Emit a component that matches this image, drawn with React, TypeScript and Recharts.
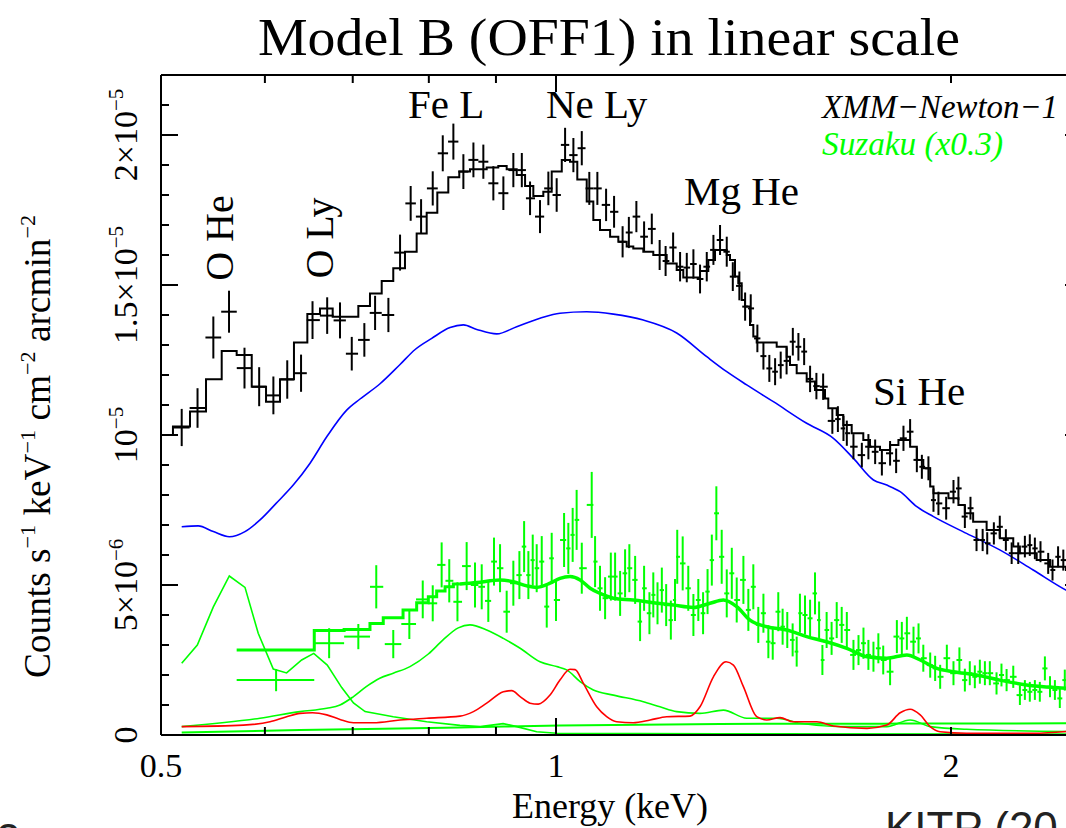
import React from 'react';
import { ComposedChart, Line, Scatter, XAxis, YAxis, ErrorBar } from 'recharts';

// energy in keV, flux in units of 1e-6 counts s^-1 keV^-1 cm^-2 arcmin^-2

// XMM-Newton-1 spectrum: [energy, flux, error]
const xmmPoints: [number, number, number][] = [
  [0.5185, 10.25, 0.62], [0.5331, 10.9, 0.66], [0.5481, 13.25, 0.7], [0.5634, 14.11, 0.7],
  [0.5789, 12.23, 0.68], [0.594, 11.61, 0.65], [0.609, 11.32, 0.63], [0.624, 11.85, 0.64],
  [0.6393, 12.06, 0.62], [0.6523, 13.83, 0.63], [0.6693, 13.98, 0.61], [0.6845, 13.82, 0.6],
  [0.6988, 12.71, 0.56], [0.7144, 13.17, 0.56], [0.728, 14.07, 0.57], [0.7452, 14.0, 0.57],
  [0.7606, 16.08, 0.6], [0.7749, 17.72, 0.58], [0.7892, 17.28, 0.58], [0.8055, 18.22, 0.57],
  [0.8198, 19.39, 0.6], [0.8352, 19.78, 0.6], [0.85, 18.78, 0.58], [0.8651, 19.17, 0.58],
  [0.8803, 19.11, 0.57], [0.8959, 18.39, 0.57], [0.9118, 18.06, 0.56], [0.9279, 18.83, 0.57],
  [0.9418, 18.83, 0.57], [0.9555, 17.89, 0.56], [0.9723, 17.28, 0.55], [0.9867, 18.22, 0.56],
  [1.0012, 18.0, 0.56], [1.0161, 19.67, 0.57], [1.031, 19.33, 0.57], [1.0463, 19.56, 0.57],
  [1.0602, 18.22, 0.55], [1.0753, 18.22, 0.55], [1.0919, 17.67, 0.54], [1.1073, 17.44, 0.53],
  [1.124, 16.44, 0.52], [1.1364, 16.75, 0.52], [1.1515, 17.28, 0.52], [1.1672, 16.61, 0.51],
  [1.1831, 16.87, 0.51], [1.1995, 16.0, 0.5], [1.2121, 15.8, 0.5], [1.2282, 16.25, 0.5],
  [1.2433, 15.61, 0.49], [1.258, 15.58, 0.49], [1.2727, 15.7, 0.49], [1.2876, 15.2, 0.48],
  [1.3029, 15.61, 0.49], [1.3182, 16.17, 0.5], [1.3336, 16.5, 0.5], [1.3494, 16.11, 0.5],
  [1.3638, 15.28, 0.48], [1.3796, 14.97, 0.48], [1.3936, 14.28, 0.47], [1.4074, 14.22, 0.47],
  [1.4239, 13.22, 0.46], [1.4391, 12.63, 0.45], [1.4541, 12.22, 0.45], [1.4689, 12.11, 0.45],
  [1.4834, 12.33, 0.45], [1.4988, 12.47, 0.45], [1.5153, 13.11, 0.46], [1.5302, 12.94, 0.46],
  [1.5457, 12.78, 0.45], [1.5619, 11.87, 0.44], [1.5793, 11.63, 0.44], [1.5981, 11.61, 0.44],
  [1.6241, 10.47, 0.43], [1.64, 10.53, 0.43], [1.6561, 10.22, 0.42], [1.6659, 10.06, 0.42],
  [1.6854, 9.61, 0.42], [1.7104, 9.33, 0.41], [1.7302, 9.61, 0.42], [1.7508, 9.44, 0.41],
  [1.7716, 9.06, 0.41], [1.7973, 9.39, 0.41], [1.8165, 9.14, 0.41], [1.84, 9.89, 0.42],
  [1.8616, 10.11, 0.42], [1.8837, 9.17, 0.41], [1.9004, 8.94, 0.4], [1.9224, 8.89, 0.4],
  [1.9395, 7.83, 0.39], [1.9565, 7.72, 0.39], [1.9832, 7.56, 0.38], [2.0088, 8.11, 0.39],
  [2.0263, 8.22, 0.39], [2.0493, 7.28, 0.38], [2.0696, 7.56, 0.38], [2.0917, 6.5, 0.37],
  [2.1143, 6.5, 0.37], [2.1313, 6.39, 0.37], [2.1563, 6.72, 0.37], [2.1788, 6.94, 0.37],
  [2.2022, 6.5, 0.36], [2.2247, 6.06, 0.36], [2.2505, 6.06, 0.36], [2.2769, 6.28, 0.36],
  [2.2967, 6.33, 0.36], [2.3172, 6.22, 0.36], [2.3402, 6.11, 0.35], [2.372, 5.72, 0.35],
  [2.3901, 5.5, 0.35], [2.4135, 5.94, 0.35], [2.4358, 5.83, 0.35], [2.4643, 5.67, 0.35],
  [2.4862, 5.5, 0.35],
];

// XMM total model, histogram: [bin lower edge, flux]
const xmmModelBins: [number, number][] = [
  [0.5, 10.0], [0.5106, 10.28], [0.5261, 10.78], [0.5411, 11.86], [0.5562, 12.8], [0.571, 12.67],
  [0.5863, 11.61], [0.6012, 11.11], [0.6161, 11.86], [0.6314, 13.08], [0.6464, 14.03], [0.6609, 14.22],
  [0.6758, 13.94], [0.7069, 14.3], [0.7215, 14.72], [0.7365, 15.13], [0.7516, 15.56], [0.7672, 16.11],
  [0.7831, 16.72], [0.797, 17.41], [0.812, 18.08], [0.8278, 18.59], [0.8439, 18.78], [0.8599, 18.86],
  [0.8855, 18.92], [0.9037, 18.97], [0.9171, 18.86], [0.9334, 18.67], [0.9472, 18.3], [0.961, 17.97],
  [0.978, 18.11], [0.9925, 18.78], [1.0102, 19.17], [1.0249, 19.11], [1.0381, 18.52], [1.0554, 17.78],
  [1.0677, 17.17], [1.0803, 16.83], [1.0996, 16.61], [1.1156, 16.44], [1.1321, 16.28], [1.1453, 16.22],
  [1.1656, 16.11], [1.1862, 16.0], [1.2144, 15.72], [1.2359, 15.5], [1.2503, 15.25], [1.2875, 15.47],
  [1.3064, 15.83], [1.3219, 16.17], [1.3493, 16.0], [1.3571, 15.83], [1.3691, 15.28], [1.377, 15.06],
  [1.3853, 14.5], [1.3933, 14.28], [1.4056, 13.67], [1.4138, 13.28], [1.4222, 13.08], [1.473, 12.94],
  [1.4991, 12.61], [1.5078, 12.33], [1.5256, 12.06], [1.5526, 11.78], [1.5754, 11.5], [1.6033, 11.22],
  [1.6126, 10.89], [1.6366, 10.67], [1.6556, 10.33], [1.6802, 10.06], [1.7148, 9.83], [1.735, 9.61],
  [1.7658, 9.5], [1.7973, 9.67], [1.8238, 9.83], [1.8616, 9.61], [1.8837, 9.17], [1.9052, 8.89],
  [1.9284, 8.28], [1.9395, 8.06], [1.9912, 7.89], [2.0263, 7.67], [2.0493, 7.39], [2.0793, 7.11],
  [2.1291, 6.83], [2.1788, 6.56], [2.231, 6.28], [2.2571, 6.06], [2.3246, 5.83], [2.3795, 5.61],
  [2.4473, 5.5], [2.52, 5.5],
];

// XMM continuum component (blue)
const xmmContinuum: [number, number][] = [
  [0.5185, 6.94], [0.5337, 6.97], [0.5481, 6.78], [0.5637, 6.61], [0.5794, 6.78], [0.5949, 7.17],
  [0.6119, 7.72], [0.6306, 8.33], [0.6495, 9.06], [0.6688, 9.94], [0.6926, 10.83], [0.709, 11.2],
  [0.734, 11.7], [0.7606, 12.35], [0.781, 12.85], [0.8041, 13.22], [0.8303, 13.58], [0.85, 13.67],
  [0.8702, 13.52], [0.9012, 13.37], [0.9334, 13.61], [0.9723, 13.89], [1.007, 14.06], [1.0554, 14.11],
  [1.106, 14.03], [1.1656, 13.83], [1.2359, 13.4], [1.3029, 12.61], [1.3494, 12.11], [1.3975, 11.67],
  [1.4645, 11.11], [1.5526, 10.39], [1.6272, 9.89], [1.6854, 9.22], [1.7456, 8.5], [1.787, 8.33],
  [1.8294, 8.11], [1.8837, 7.61], [1.9395, 7.28], [2.0553, 6.72], [2.1788, 6.17], [2.3103, 5.5],
  [2.4473, 4.83], [2.52, 4.55],
];

// Suzaku (x0.3) spectrum: [energy, flux, error]
const suzakuPoints: [number, number, number][] = [
  [0.6119, 1.83, 0.37], [0.6716, 3.06, 0.5], [0.7069, 3.28, 0.42], [0.7295, 4.94, 0.72],
  [0.7516, 3.03, 0.47], [0.7731, 3.7, 0.5], [0.7915, 4.52, 0.63], [0.8055, 4.39, 0.6],
  [0.8182, 5.67, 0.75], [0.8292, 5.14, 0.72], [0.8412, 4.44, 0.65], [0.8549, 5.63, 0.8],
  [0.8675, 5.0, 0.75], [0.8778, 4.94, 0.75], [0.888, 4.47, 0.7], [0.8969, 5.78, 0.8],
  [0.9065, 5.56, 0.8], [0.9171, 4.11, 0.7], [0.9279, 5.06, 0.75], [0.9378, 5.33, 0.8],
  [0.9456, 6.28, 0.85], [0.9527, 5.33, 0.8], [0.96, 5.83, 0.85], [0.9667, 5.56, 0.8],
  [0.9753, 5.78, 0.85], [0.9839, 4.28, 0.7], [0.9925, 5.89, 0.85], [1.0, 4.5, 0.7],
  [1.0143, 6.5, 0.9], [1.0219, 6.22, 0.85], [1.0297, 6.67, 0.9], [1.0369, 7.17, 1.0],
  [1.0463, 5.56, 0.85], [1.0647, 7.67, 1.1], [1.071, 5.78, 0.85], [1.0803, 4.89, 0.75],
  [1.09, 4.56, 0.7], [1.101, 5.28, 0.8], [1.1093, 5.28, 0.8], [1.1191, 4.72, 0.75],
  [1.1289, 5.39, 0.8], [1.1374, 5.56, 0.8], [1.149, 5.17, 0.8], [1.159, 3.78, 0.65],
  [1.1672, 4.89, 0.75], [1.1782, 4.06, 0.7], [1.1862, 4.67, 0.75], [1.195, 4.39, 0.7],
  [1.2041, 4.83, 0.75], [1.2133, 4.33, 0.7], [1.2233, 3.83, 0.65], [1.2322, 4.5, 0.7],
  [1.2371, 5.94, 0.9], [1.249, 5.72, 0.9], [1.2613, 4.89, 0.75], [1.2727, 4.0, 0.7],
  [1.2837, 4.5, 0.7], [1.2945, 4.06, 0.7], [1.3047, 4.78, 0.75], [1.3145, 5.83, 0.85],
  [1.325, 7.39, 0.9], [1.3375, 5.94, 0.9], [1.3494, 4.72, 0.8], [1.3614, 5.39, 0.85],
  [1.3732, 4.5, 0.75], [1.3894, 5.17, 0.8], [1.4015, 4.17, 0.7], [1.4138, 4.94, 0.75],
  [1.4262, 3.67, 0.6], [1.4391, 4.06, 0.65], [1.4516, 3.11, 0.55], [1.4628, 3.06, 0.55],
  [1.4771, 4.11, 0.65], [1.4884, 3.61, 0.6], [1.5006, 3.5, 0.6], [1.5148, 3.17, 0.55],
  [1.5256, 2.78, 0.5], [1.5343, 4.06, 0.65], [1.548, 4.0, 0.65], [1.5619, 3.89, 0.62],
  [1.5754, 4.72, 0.7], [1.5868, 3.83, 0.62], [1.596, 2.5, 0.5], [1.6079, 3.5, 0.6],
  [1.622, 3.22, 0.55], [1.6366, 3.83, 0.6], [1.651, 3.67, 0.6], [1.6659, 3.5, 0.6],
  [1.6854, 2.67, 0.5], [1.7004, 2.83, 0.5], [1.7153, 3.06, 0.52], [1.7302, 2.67, 0.5],
  [1.7456, 2.61, 0.5], [1.7607, 2.89, 0.5], [1.7758, 2.5, 0.48], [1.7973, 2.11, 0.45],
  [1.8188, 3.28, 0.55], [1.8347, 3.22, 0.55], [1.851, 3.39, 0.55], [1.8727, 3.11, 0.5],
  [1.8893, 3.22, 0.5], [1.9052, 2.56, 0.45], [1.9284, 2.33, 0.42], [1.9452, 2.22, 0.42],
  [1.9624, 1.94, 0.4], [1.9855, 2.56, 0.45], [2.0088, 2.06, 0.4], [2.0298, 2.5, 0.42],
  [2.0493, 1.83, 0.38], [2.0671, 2.06, 0.4], [2.0855, 1.94, 0.38], [2.1039, 2.11, 0.4],
  [2.1226, 2.06, 0.4], [2.1411, 2.06, 0.4], [2.1664, 1.72, 0.37], [2.1853, 2.0, 0.38],
  [2.205, 1.83, 0.37], [2.231, 1.94, 0.37], [2.2571, 1.33, 0.33], [2.2769, 1.5, 0.33],
  [2.2967, 1.44, 0.33], [2.3172, 1.5, 0.33], [2.3374, 1.44, 0.33], [2.3583, 2.22, 0.4],
  [2.3795, 1.61, 0.35], [2.4001, 1.5, 0.33], [2.4209, 1.22, 0.32], [2.4421, 1.83, 0.35],
  [2.469, 1.57, 0.33],
];

// the first Suzaku bins are wide: [lower edge, upper edge]
const suzakuWideBins: [number, number][] = [
  [0.571, 0.6543], [0.6543, 0.6895], [0.6895, 0.7215], [0.7215, 0.7385],
];

// Suzaku total model: coarse bins below 0.845 keV, then smooth
const suzakuModelBins: [number, number][] = [
  [0.571, 2.83], [0.6543, 3.48], [0.6895, 3.52], [0.7215, 3.72], [0.7385, 3.91], [0.7646, 4.17],
  [0.7831, 4.41], [0.7993, 4.61], [0.8111, 4.8], [0.8231, 4.94], [0.8352, 5.03], [0.8449, 5.03],
];
const suzakuModel: [number, number][] = [
  [0.8449, 5.03], [0.8702, 5.08], [0.9065, 5.17], [0.9279, 5.11], [0.95, 4.97], [0.9667, 4.92],
  [0.9896, 5.06], [1.007, 5.22], [1.0249, 5.28], [1.0432, 5.17], [1.0617, 4.89], [1.0803, 4.72],
  [1.106, 4.56], [1.1453, 4.5], [1.1862, 4.41], [1.2288, 4.33], [1.2727, 4.25], [1.3103, 4.39],
  [1.3414, 4.5], [1.3732, 4.28], [1.4056, 3.83], [1.4475, 3.61], [1.4991, 3.5], [1.5526, 3.28],
  [1.6079, 3.11], [1.6659, 2.89], [1.7262, 2.61], [1.787, 2.56], [1.851, 2.67], [1.8949, 2.5],
  [1.951, 2.22], [2.0088, 2.11], [2.0917, 2.0], [2.1788, 1.83], [2.2836, 1.67], [2.4473, 1.56],
  [2.52, 1.52],
];

// Suzaku model components (green) and line component (red)
const suzakuOxygen: [number, number][] = [
  [0.5185, 2.39], [0.5329, 3.0], [0.5481, 4.27], [0.5637, 5.3], [0.5794, 4.92], [0.593, 3.39],
  [0.6089, 2.2], [0.6233, 2.07], [0.64, 2.5], [0.6537, 2.72], [0.6694, 2.33], [0.6866, 1.58],
  [0.7009, 1.07], [0.7153, 0.78], [0.7516, 0.61], [0.797, 0.44], [0.8449, 0.32], [0.8756, 0.28],
  [0.9113, 0.38], [0.9334, 0.28], [0.9667, 0.11], [1.0012, 0.06], [1.3336, 0.04], [2.52, 0.03],
];
const suzakuFeL: [number, number][] = [
  [0.5185, 0.28], [0.5949, 0.56], [0.6381, 0.78], [0.6688, 0.89], [0.6845, 1.0], [0.7009, 1.28],
  [0.7168, 1.61], [0.734, 1.89], [0.7516, 2.06], [0.774, 2.28], [0.7993, 2.7], [0.8202, 3.17],
  [0.8424, 3.57], [0.8599, 3.67], [0.8855, 3.5], [0.9118, 3.22], [0.939, 2.89], [0.9723, 2.44],
  [1.0012, 2.28], [1.0191, 2.17], [1.0432, 1.78], [1.0677, 1.5], [1.106, 1.33], [1.1656, 1.11],
  [1.2002, 0.94], [1.2359, 0.78], [1.2875, 0.72], [1.3414, 0.83], [1.3975, 0.56], [1.473, 0.56],
  [1.535, 0.39], [1.6465, 0.28], [1.787, 0.28], [1.8616, 0.5], [1.9284, 0.28], [2.0553, 0.19],
  [2.52, 0.11],
];
const suzakuFlat: [number, number][] = [
  [0.5185, 0.08], [0.6381, 0.17], [0.8449, 0.25], [1.007, 0.32], [1.3336, 0.37], [1.8294, 0.38],
  [2.52, 0.39],
];
const lineComponent: [number, number][] = [
  [0.5185, 0.28], [0.5777, 0.33], [0.6054, 0.44], [0.6233, 0.61], [0.6381, 0.72], [0.6523, 0.74],
  [0.6688, 0.67], [0.6845, 0.52], [0.7009, 0.41], [0.7256, 0.41], [0.7606, 0.5], [0.797, 0.56],
  [0.8449, 0.63], [0.8651, 0.78], [0.8855, 1.06], [0.9118, 1.44], [0.9253, 1.48], [0.939, 1.28],
  [0.9555, 1.06], [0.9694, 1.03], [0.9896, 1.33], [1.007, 1.83], [1.0249, 2.19], [1.0341, 2.18],
  [1.0492, 1.72], [1.0741, 0.94], [1.093, 0.61], [1.1124, 0.44], [1.1453, 0.41], [1.1796, 0.5],
  [1.2144, 0.61], [1.2651, 0.63], [1.2875, 0.94], [1.3182, 1.94], [1.3477, 2.44], [1.3653, 2.33],
  [1.3894, 1.61], [1.4222, 0.61], [1.4475, 0.5], [1.4816, 0.58], [1.5169, 0.44], [1.5804, 0.44],
  [1.6272, 0.3], [1.7262, 0.22], [1.787, 0.33], [1.8294, 0.74], [1.8616, 0.86], [1.8949, 0.67],
  [1.9284, 0.28], [1.9624, 0.11], [2.0553, 0.06], [2.3103, 0.06], [2.52, 0.17],
];

const xDomain = [0.5, 2.517];
const xTicks = [0.5, 0.6, 0.7, 0.8, 0.9, 1, 2];
const xTickLabels = ['0.5', '', '', '', '', '1', '2'];
const yTicks = [0, 1, 2, 3, 4, 5, 6, 7, 8, 9, 10, 11, 12, 13, 14, 15, 16, 17, 18, 19, 20, 21, 22];
const yTickLabels: [number, string, string][] = [
  [0, '0', ''], [5, '5×10', '−6'], [10, '10', '−5'], [15, '1.5×10', '−5'], [20, '2×10', '−5'],
];

const SERIF = "'Liberation Serif', 'Times New Roman', serif";
const SANS = "'Liberation Sans', Arial, sans-serif";
const GREEN = '#00ff00';

function withBins(pts: [number, number, number][], edges: [number, number][] = []) {
  return pts.map(([e, y, err], i) => {
    const prev = i > 0 ? pts[i - 1][0] : 0;
    const next = i < pts.length - 1 ? pts[i + 1][0] : 0;
    let hi = next ? Math.sqrt(e * next) : 0;
    let lo = prev ? Math.sqrt(e * prev) : (e * e) / hi;
    if (!hi) hi = (e * e) / lo;
    if (edges[i]) [lo, hi] = edges[i];
    return { e, y, ey: err, ex: [e - lo, hi - e] };
  });
}
const toRows = (pts: [number, number][]) => pts.map(([e, y]) => ({ e, y }));

const xmmRows = withBins(xmmPoints);
const suzakuRows = withBins(suzakuPoints, suzakuWideBins);

const labelStyle = { fontFamily: SERIF, fill: '#000' };

function NoShape() {
  return <g />;
}

function BottomTick({ x, y, payload }: any) {
  const i = xTicks.indexOf(payload.value);
  const len = payload.value === 1 ? 17 : 8;
  return (
    <g>
      <line x1={x} y1={y} x2={x} y2={y - len} stroke="#000" strokeWidth={2} />
      {xTickLabels[i] ? (
        <text x={x} y={y + 42} textAnchor="middle" fontSize={34} style={labelStyle}>
          {xTickLabels[i]}
        </text>
      ) : null}
    </g>
  );
}

function TopTick({ x, y, payload }: any) {
  const len = payload.value === 1 ? 17 : 8;
  return <line x1={x} y1={y} x2={x} y2={y + len} stroke="#000" strokeWidth={2} />;
}

function LeftTick({ x, y, payload }: any) {
  const v = payload.value;
  const lab = yTickLabels.find((l) => l[0] === v);
  const len = v % 5 === 0 ? 17 : 8;
  const bx = x - 24;
  return (
    <g>
      <line x1={x} y1={y} x2={x + len} y2={y} stroke="#000" strokeWidth={2} />
      {lab ? (
        <text x={bx} y={y} transform={`rotate(-90 ${bx} ${y})`} textAnchor="middle" fontSize={34} style={labelStyle}>
          {lab[1]}
          {lab[2] ? <tspan fontSize={21} dy={-14}>{lab[2]}</tspan> : null}
        </text>
      ) : null}
    </g>
  );
}

function RightTick({ x, y, payload }: any) {
  const len = payload.value % 5 === 0 ? 17 : 8;
  return <line x1={x} y1={y} x2={x - len} y2={y} stroke="#000" strokeWidth={2} />;
}

const axisLine = { stroke: '#000', strokeWidth: 2 };

export default function App() {
  const lineProps = {
    xAxisId: 'b',
    yAxisId: 'l',
    dataKey: 'y',
    dot: false,
    activeDot: false,
    isAnimationActive: false,
  } as const;

  return (
    <div style={{ position: 'fixed', left: 0, top: 0, width: 1066, height: 828, overflow: 'hidden', background: '#fff' }}>
      <ComposedChart width={1100} height={828} margin={{ top: 74, right: 17, bottom: 92, left: 160 }}>
        <XAxis
          xAxisId="b"
          dataKey="e"
          type="number"
          scale="log"
          domain={xDomain}
          allowDataOverflow
          ticks={xTicks}
          interval={0}
          height={1}
          tickSize={0}
          tickMargin={0}
          tickLine={false}
          axisLine={axisLine}
          tick={BottomTick}
        />
        <XAxis
          xAxisId="t"
          orientation="top"
          dataKey="e"
          type="number"
          scale="log"
          domain={xDomain}
          allowDataOverflow
          ticks={xTicks}
          interval={0}
          height={1}
          tickSize={0}
          tickMargin={0}
          tickLine={false}
          axisLine={axisLine}
          tick={TopTick}
        />
        <YAxis
          yAxisId="l"
          type="number"
          domain={[0, 22]}
          allowDataOverflow
          ticks={yTicks}
          interval={0}
          width={1}
          tickSize={0}
          tickMargin={0}
          tickLine={false}
          axisLine={axisLine}
          tick={LeftTick}
        />
        <YAxis
          yAxisId="r"
          orientation="right"
          type="number"
          domain={[0, 22]}
          allowDataOverflow
          ticks={yTicks}
          interval={0}
          width={1}
          tickSize={0}
          tickMargin={0}
          tickLine={false}
          axisLine={axisLine}
          tick={RightTick}
        />

        <Line {...lineProps} data={toRows(suzakuFlat)} type="monotone" stroke={GREEN} strokeWidth={2} />
        <Line {...lineProps} data={toRows(suzakuFeL)} type="monotone" stroke={GREEN} strokeWidth={1.6} />
        <Line {...lineProps} data={toRows(suzakuOxygen)} type="linear" stroke={GREEN} strokeWidth={1.6} />
        <Line {...lineProps} data={toRows(lineComponent)} type="monotone" stroke="#ff0000" strokeWidth={1.6} />
        <Line {...lineProps} data={toRows(xmmContinuum)} type="monotone" stroke="#0000ff" strokeWidth={1.6} />
        <Line {...lineProps} data={toRows(suzakuModelBins)} type="stepAfter" stroke={GREEN} strokeWidth={3} />
        <Line {...lineProps} data={toRows(suzakuModel)} type="monotone" stroke={GREEN} strokeWidth={3.5} />

        <Scatter xAxisId="b" yAxisId="l" data={suzakuRows} dataKey="y" shape={NoShape} isAnimationActive={false}>
          <ErrorBar dataKey="ey" direction="y" width={0} stroke={GREEN} strokeWidth={2} isAnimationActive={false} />
          <ErrorBar dataKey="ex" direction="x" width={0} stroke={GREEN} strokeWidth={2} isAnimationActive={false} />
        </Scatter>

        <Line {...lineProps} data={toRows(xmmModelBins)} type="stepAfter" stroke="#000" strokeWidth={2} />

        <Scatter xAxisId="b" yAxisId="l" data={xmmRows} dataKey="y" shape={NoShape} isAnimationActive={false}>
          <ErrorBar dataKey="ey" direction="y" width={0} stroke="#000" strokeWidth={2} isAnimationActive={false} />
          <ErrorBar dataKey="ex" direction="x" width={0} stroke="#000" strokeWidth={2} isAnimationActive={false} />
        </Scatter>
      </ComposedChart>

      <svg width={1066} height={828} style={{ position: 'absolute', left: 0, top: 0, pointerEvents: 'none' }}>
        <text x={258} y={55} fontFamily={SERIF} fontSize={52} textLength={702} lengthAdjust="spacingAndGlyphs">
          Model B (OFF1) in linear scale
        </text>

        <text x={50} y={678} transform="rotate(-90 50 678)" fontFamily={SERIF} fontSize={37} textLength={463} lengthAdjust="spacingAndGlyphs">
          Counts s<tspan fontSize={22} dy={-15}>−1</tspan>
          <tspan dy={15}> keV</tspan>
          <tspan fontSize={22} dy={-15}>−1</tspan>
          <tspan dy={15}> cm</tspan>
          <tspan fontSize={22} dy={-15}>−2</tspan>
          <tspan dy={15}> arcmin</tspan>
          <tspan fontSize={22} dy={-15}>−2</tspan>
        </text>

        <text x={512} y={818} fontFamily={SERIF} fontSize={35} textLength={196} lengthAdjust="spacingAndGlyphs">
          Energy (keV)
        </text>

        <text x={233} y={238} transform="rotate(-90 233 238)" textAnchor="middle" fontFamily={SERIF} fontSize={40}>O He</text>
        <text x={333} y={238} transform="rotate(-90 333 238)" textAnchor="middle" fontFamily={SERIF} fontSize={40}>O Ly</text>
        <text x={408} y={118} fontFamily={SERIF} fontSize={41}>Fe L</text>
        <text x={546} y={118} fontFamily={SERIF} fontSize={41}>Ne Ly</text>
        <text x={684} y={205} fontFamily={SERIF} fontSize={41}>Mg He</text>
        <text x={873} y={405} fontFamily={SERIF} fontSize={41}>Si He</text>

        <text x={822} y={118} fontFamily={SERIF} fontStyle="italic" fontSize={34} textLength={236} lengthAdjust="spacingAndGlyphs">
          XMM−Newton−1
        </text>
        <text x={822} y={155} fontFamily={SERIF} fontStyle="italic" fontSize={34} fill={GREEN} textLength={181} lengthAdjust="spacingAndGlyphs">
          Suzaku (x0.3)
        </text>

        <text x={885} y={843} fontFamily={SANS} fontSize={44} fill="#222">KITP (20</text>
        <text x={-4} y={855} fontFamily={SANS} fontSize={44} fill="#222">2</text>
      </svg>
    </div>
  );
}
